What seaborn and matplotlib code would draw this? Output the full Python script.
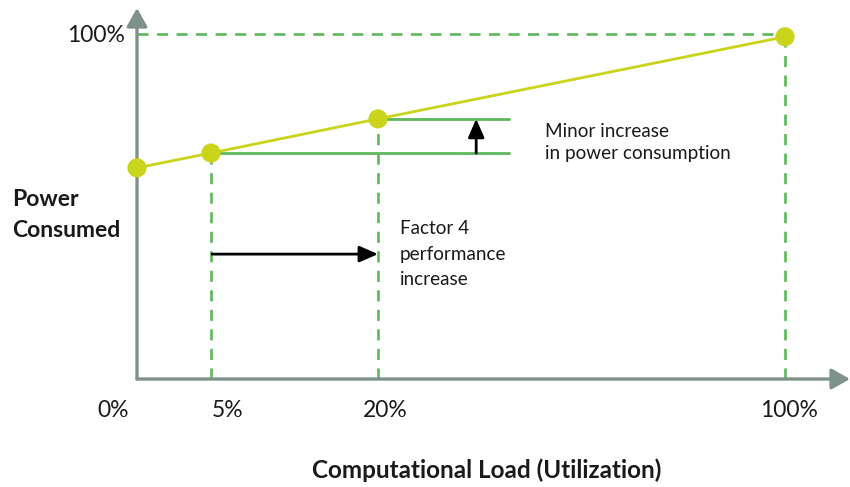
import numpy as np
import seaborn as sns
import matplotlib.pyplot as plt
import matplotlib.transforms as mtransforms
from matplotlib.scale import FuncScale

# data
load_pct = [0, 5, 20, 100]
power_pct = [61.2, 65.5, 75.4, 99.2]
load_labels = ["0%", "5%", "20%", "100%"]

# schematic (non-linear) x axis: load -> horizontal position
knots_load = [0, 5, 20, 100, 130]
knots_pos = [0, 74, 241, 648, 800.6]

LINE = "#c9d41a"
GREEN = "#5cb85c"
GREY = "#7f918b"

sns.set_style("white")
plt.rcParams["font.family"] = ["Lato", "DejaVu Sans"]

fig = plt.figure(figsize=(8.5, 4.87), dpi=100)
W, H = 850, 487
ax = fig.add_axes([137 / W, (H - 379) / H, (850 - 137) / W, (379 - 8) / H])
ax.set_xscale(FuncScale(ax.xaxis, (lambda x: np.interp(x, knots_load, knots_pos),
                                   lambda p: np.interp(p, knots_pos, knots_load))))
ax.set_xlim(0, 100 + 65 / 5.0875)
ax.set_ylim(0, (379 - 8) / 3.45)
for s in ax.spines.values():
    s.set_visible(False)

# axes with arrow heads
ax.annotate("", xy=(1, 0), xytext=(0, 0), xycoords="axes fraction",
            arrowprops=dict(arrowstyle="-|>,head_length=0.8,head_width=0.45", color=GREY,
                            lw=2.4, shrinkA=0, shrinkB=0, mutation_scale=14))
ax.annotate("", xy=(0, 1), xytext=(0, 0), xycoords="axes fraction",
            arrowprops=dict(arrowstyle="-|>,head_length=0.8,head_width=0.45", color=GREY,
                            lw=2.4, shrinkA=0, shrinkB=0, mutation_scale=14))

dash = dict(color=GREEN, lw=1.9, ls=(0, (4.2, 3.2)), zorder=1)
for x, y in zip(load_pct[1:], power_pct[1:]):
    ax.plot([x, x], [0, y], **dash)
ax.plot([0, load_pct[-1]], [100, 100], **dash)

# solid green reference levels
x_end = 45.7
ax.plot([load_pct[1], x_end], [power_pct[1], power_pct[1]], color=GREEN, lw=2, zorder=1)
ax.plot([load_pct[2], x_end], [power_pct[2], power_pct[2]], color=GREEN, lw=2, zorder=1)

sns.lineplot(x=load_pct, y=power_pct, color=LINE, lw=2, ax=ax, zorder=2)
sns.scatterplot(x=load_pct, y=power_pct, color=LINE, s=190, edgecolor="none",
                ax=ax, zorder=3, clip_on=False)

# arrows
ax.annotate("", xy=(39.3, power_pct[2]), xytext=(39.3, power_pct[1]),
            arrowprops=dict(arrowstyle="-|>,head_length=0.8,head_width=0.35", color="black",
                            lw=2, shrinkA=0, shrinkB=0, mutation_scale=14))
ax.annotate("", xy=(20, 36.2), xytext=(5.1, 36.2),
            arrowprops=dict(arrowstyle="-|>,head_length=0.8,head_width=0.35", color="black",
                            lw=2, shrinkA=0, shrinkB=0, mutation_scale=14))

ax.text(52.8, 68.6, "Minor increase\nin power consumption", fontsize=13.6,
        va="center", ha="left", linespacing=1.4, color="#1a1a1a")
ax.text(24.3, 36.2, "Factor 4\nperformance\nincrease", fontsize=13.6,
        va="center", ha="left", linespacing=1.6, color="#1a1a1a")

# ticks
ax.set_xticks(load_pct, load_labels)
ax.set_yticks([100], ["100%"])
ax.tick_params(axis="x", length=0, pad=15, labelsize=16.5, labelcolor="#1a1a1a")
ax.tick_params(axis="y", length=0, pad=9, labelsize=16.5, labelcolor="#1a1a1a")
offsets = [-24, 17, 7, 4]
for lab, dx in zip(ax.get_xticklabels(), offsets):
    lab.set_transform(lab.get_transform() +
                      mtransforms.ScaledTranslation(dx / 100, 0, fig.dpi_scale_trans))

fig.text(12 / W, 1 - 215 / H, "Power\nConsumed", fontsize=16.5, fontweight="bold",
         ha="left", va="center", linespacing=1.6, color="#1a1a1a")
fig.text(487 / W, 1 - 470 / H, "Computational Load (Utilization)", fontsize=17.5,
         fontweight="bold", ha="center", va="center", color="#1a1a1a")

fig.savefig("out.png", dpi=100)
